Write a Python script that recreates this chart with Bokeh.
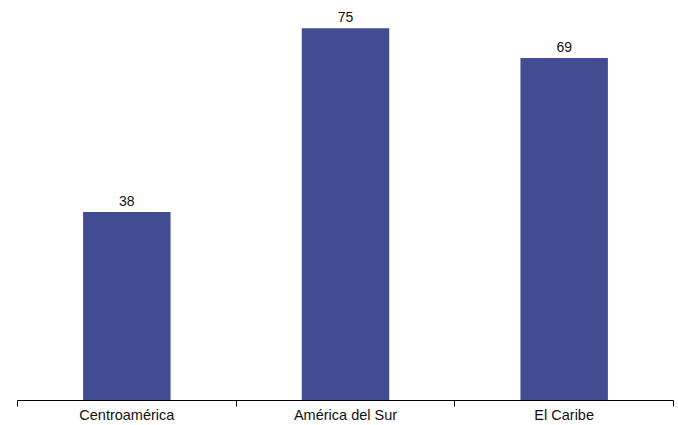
from bokeh.plotting import figure
from bokeh.models import Range1d, LinearAxis, FixedTicker, ColumnDataSource
from bokeh.core.properties import value
from bokeh.embed import file_html
from bokeh.resources import INLINE

categories = ["Centroamérica", "América del Sur", "El Caribe"]
values = [38, 75, 69]
labels = [str(v) for v in values]

BAR = "#414C91"
FONT = "Liberation Sans"

n = len(categories)
centers = [i + 0.5 for i in range(n)]
bounds = list(range(n + 1))
src = ColumnDataSource(dict(x=centers, val=values, lab=labels))

p = figure(width=678, height=425, x_range=Range1d(0, n),
           y_range=Range1d(0, 80.6), output_backend="svg", toolbar_location=None,
           x_axis_location=None, y_axis_location=None,
           min_border_left=17, min_border_right=5, min_border_top=0, min_border_bottom=0)
p.outline_line_color = None
p.xgrid.visible = False
p.ygrid.visible = False
p.background_fill_color = "white"
p.border_fill_color = "white"

p.vbar(x="x", top="val", width=0.4, source=src, fill_color=BAR, line_color=None)
p.text(x="x", y="val", text="lab", source=src, text_align="center", text_baseline="bottom",
       y_offset=-6, text_font=value(FONT), text_font_size="14px", text_color="#111111")

axis = LinearAxis(ticker=FixedTicker(ticks=centers, minor_ticks=bounds),
                  major_label_overrides={c: name for c, name in zip(centers, categories)},
                  axis_line_color="black", axis_line_width=1,
                  major_tick_line_color=None, major_tick_out=0, major_tick_in=0,
                  minor_tick_line_color="black", minor_tick_out=6, minor_tick_in=0,
                  major_label_standoff=0,
                  major_label_text_font=FONT, major_label_text_font_size="14.5px",
                  major_label_text_color="#111111")
p.add_layout(axis, "below")

open("out.html", "w").write(file_html(p, INLINE))
